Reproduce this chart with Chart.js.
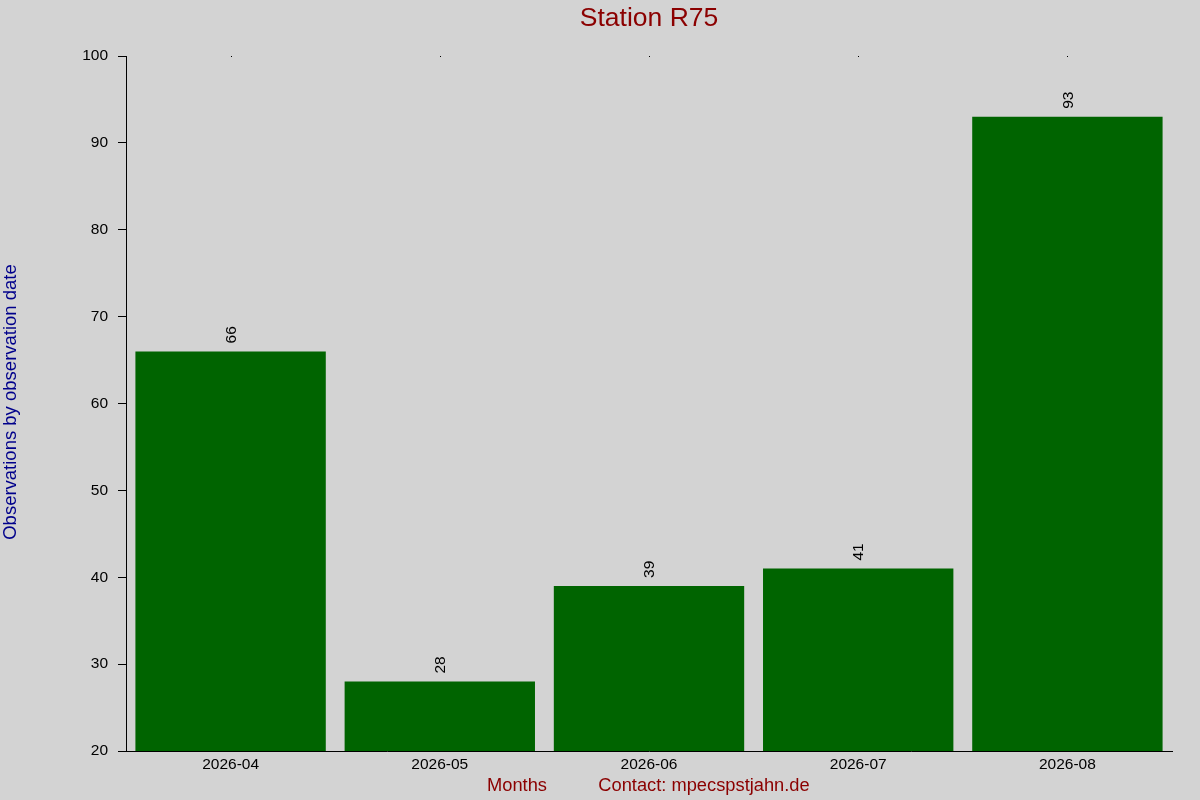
<!DOCTYPE html>
<html>
<head>
<meta charset="utf-8">
<script src="https://cdn.jsdelivr.net/npm/chart.js@4/dist/chart.umd.min.js"></script>
<style>
html,body{margin:0;padding:0;background:#d3d3d3;}
#wrap{width:1200px;height:800px;position:relative;}
</style>
</head>
<body>
<div id="wrap"><canvas id="c" width="1200" height="800"></canvas></div>
<script>
const categories = ["2026-04", "2026-05", "2026-06", "2026-07", "2026-08"];
const observations = [66, 28, 39, 41, 93];
const yMin = 20, yMax = 100, yStep = 10;
const chartTitle = "Station R75";
const yTitle = "Observations by observation date";
const xTitle = "Months";
const contactText = "Contact: mpecspstjahn.de";

const FONT = "'Liberation Sans', Arial, sans-serif";

const textPlugin = {
  id: 'texts',
  beforeDraw(chart) {
    const ctx = chart.ctx;
    ctx.save();
    ctx.fillStyle = '#d3d3d3';
    ctx.fillRect(0, 0, chart.width, chart.height);
    ctx.restore();
  },
  afterDraw(chart) {
    const ctx = chart.ctx;
    const xs = chart.scales.x;
    const area = chart.chartArea;
    ctx.save();
    ctx.fillStyle = '#8b0000';
    ctx.font = "26.5px " + FONT;
    ctx.textAlign = 'center';
    ctx.textBaseline = 'middle';
    ctx.fillText(chartTitle, (area.left + area.right) / 2, 19);
    ctx.font = "18.3px " + FONT;
    ctx.fillText(xTitle, 517, 786);
    ctx.fillText(contactText, 704, 786);
    ctx.fillStyle = '#00008b';
    ctx.font = "18.5px " + FONT;
    ctx.translate(11, 402);
    ctx.rotate(-Math.PI / 2);
    ctx.fillText(yTitle, 0, 0);
    ctx.restore();
    ctx.save();
    ctx.fillStyle = '#000';
    categories.forEach((c, i) => {
      const px = Math.round(xs.getPixelForValue(i));
      ctx.fillRect(px, area.top, 1, 1);
    });
    ctx.restore();
  },
  afterDatasetsDraw(chart) {
    const ctx = chart.ctx;
    const meta = chart.getDatasetMeta(0);
    ctx.save();
    ctx.fillStyle = '#000';
    ctx.font = "15.5px " + FONT;
    ctx.textAlign = 'left';
    ctx.textBaseline = 'middle';
    meta.data.forEach((bar, i) => {
      ctx.save();
      ctx.translate(bar.x + 1, bar.y - 8);
      ctx.rotate(-Math.PI / 2);
      ctx.fillText(String(observations[i]), 0, 0);
      ctx.restore();
    });
    ctx.restore();
  }
};

new Chart(document.getElementById('c'), {
  type: 'bar',
  data: {
    labels: categories,
    datasets: [{
      data: observations,
      backgroundColor: '#006400',
      borderWidth: 0,
      categoryPercentage: 1.0,
      barPercentage: 0.91
    }]
  },
  options: {
    responsive: false,
    animation: false,
    devicePixelRatio: 1,
    layout: { padding: { left: 0, top: 56, right: 28, bottom: 0 } },
    plugins: {
      legend: { display: false },
      title: { display: false },
      tooltip: { enabled: false }
    },
    scales: {
      x: {
        grid: { display: false, drawTicks: false, tickLength: 0 },
        border: { display: true, color: '#000', width: 1 },
        ticks: { color: '#000', font: { family: FONT, size: 15.5 }, padding: 4, maxRotation: 0 },
        afterFit(scale) { scale.height = 49; }
      },
      y: {
        min: yMin,
        max: yMax,
        grid: { display: true, drawOnChartArea: false, drawTicks: true, tickLength: 8, color: '#000' },
        border: { display: true, color: '#000', width: 1 },
        ticks: { stepSize: yStep, color: '#000', font: { family: FONT, size: 15.5 }, padding: 10 },
        afterFit(scale) { scale.width = 126; }
      }
    }
  },
  plugins: [textPlugin]
});
</script>
</body>
</html>
